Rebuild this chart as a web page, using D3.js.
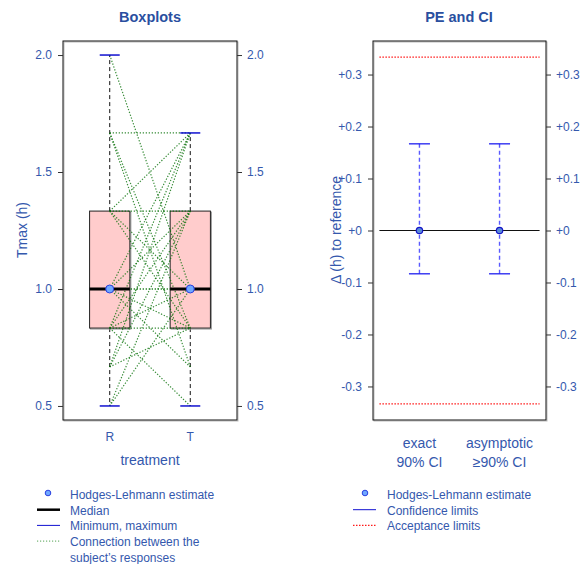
<!DOCTYPE html>
<html><head><meta charset="utf-8">
<script src="https://cdn.jsdelivr.net/npm/d3@7"></script>
<style>body{margin:0;background:#fff}text{font-family:"Liberation Sans",Arial,sans-serif}</style>
</head><body><svg id="c" width="585" height="564"></svg>
<script>
// ---- data ----
const treatments = ["R", "T"];
const tmaxR = [2.0, 1.667, 1.667, 1.667, 1.333, 1.333, 1.333, 1.0, 1.0, 1.0, 1.0, 0.833, 0.833, 0.833, 0.833, 0.667, 0.667, 0.5, 0.667, 1.333, 0.833, 1.0, 0.5, 1.0];
const tmaxT = [1.0, 1.667, 0.833, 0.667, 1.667, 1.333, 0.833, 1.667, 1.0, 0.833, 1.333, 1.667, 0.833, 1.0, 0.5, 1.667, 1.333, 1.0, 0.833, 1.0, 1.333, 0.667, 1.333, 1.0];
const hlEstimate = [1.0, 1.0];
const leftTicks = [0.5, 1.0, 1.5, 2.0];
const ciMethods = [["exact", "90% CI"], ["asymptotic", "\u226590% CI"]];
const pointEst = [0, 0];
const ciLower = [-0.0833, -0.0833];
const ciUpper = [0.1667, 0.1667];
const acceptance = [-0.3333, 0.3333];
const rightTicks = [-0.3, -0.2, -0.1, 0, 0.1, 0.2, 0.3];

const svg = d3.select("#c");
const blue = "#3458ad", titleBlue = "#2a4f9f";
const pTop = 41, pBottom = 420;
const tickFont = 12;

// ---- left panel ----
const xL = d3.scaleLinear().domain([0.42, 2.58]).range([63, 237]);
const yL = d3.scaleLinear().domain([0.44, 2.06]).range([pBottom, pTop]);
const gL = svg.append("g");
gL.append("text").attr("x", 150).attr("y", 22).attr("text-anchor", "middle").attr("font-weight", "bold").attr("font-size", 14.5).attr("fill", titleBlue).text("Boxplots");

const data = [tmaxR, tmaxT];
const stats = data.map(a => {
  const s = a.slice().sort(d3.ascending);
  return {min: s[0], q1: d3.quantile(s, 0.25), med: d3.quantile(s, 0.5), q3: d3.quantile(s, 0.75), max: s[s.length - 1]};
});
stats.forEach((s, i) => {
  const cx = xL(i + 1);
  gL.append("line").attr("x1", cx).attr("x2", cx).attr("y1", yL(s.q3)).attr("y2", yL(s.max)).attr("stroke", "#111").attr("stroke-dasharray", "4,3");
  gL.append("line").attr("x1", cx).attr("x2", cx).attr("y1", yL(s.q1)).attr("y2", yL(s.min)).attr("stroke", "#111").attr("stroke-dasharray", "4,3");
});
stats.forEach((s, i) => {
  const x0 = xL(i + 1 - 0.25), x1 = xL(i + 1 + 0.25);
  gL.append("rect").attr("x", x0 + 1).attr("y", yL(s.q3) + 1).attr("width", x1 - x0).attr("height", yL(s.q1) - yL(s.q3)).attr("fill", "none").attr("stroke", "#999");
  gL.append("rect").attr("x", x0).attr("y", yL(s.q3)).attr("width", x1 - x0).attr("height", yL(s.q1) - yL(s.q3)).attr("fill", "#ffcccc").attr("stroke", "#222");
});
tmaxR.forEach((r, k) => {
  gL.append("line").attr("x1", xL(1)).attr("x2", xL(2)).attr("y1", yL(r)).attr("y2", yL(tmaxT[k]))
    .attr("stroke", "#087008").attr("stroke-opacity", 0.8).attr("stroke-dasharray", "1.3,1.7").attr("stroke-width", 1.2);
});
stats.forEach((s, i) => {
  const x0 = xL(i + 1 - 0.25), x1 = xL(i + 1 + 0.25), cx = xL(i + 1);
  gL.append("line").attr("x1", x0).attr("x2", x1).attr("y1", yL(s.med)).attr("y2", yL(s.med)).attr("stroke", "#000").attr("stroke-width", 3);
  [s.min, s.max].forEach(v => gL.append("line").attr("x1", cx - 10).attr("x2", cx + 10).attr("y1", yL(v)).attr("y2", yL(v)).attr("stroke", "#1010d0").attr("stroke-width", 1.5));
  gL.append("circle").attr("cx", cx).attr("cy", yL(hlEstimate[i])).attr("r", 4).attr("fill", "#6fa8ff").attr("stroke", "#2a40e0").attr("stroke-width", 1);
});
gL.append("rect").attr("x", 64).attr("y", pTop + 1).attr("width", 174).attr("height", pBottom - pTop).attr("fill", "none").attr("stroke", "#bbb");
gL.append("rect").attr("x", 63).attr("y", pTop).attr("width", 174).attr("height", pBottom - pTop).attr("fill", "none").attr("stroke", "#111");
const fmt1 = d3.format(".1f");
const axL = gL.append("g").attr("transform", "translate(63,0)").call(d3.axisLeft(yL).tickValues(leftTicks).tickFormat(fmt1).tickSize(5).tickPadding(6));
const axR = gL.append("g").attr("transform", "translate(237,0)").call(d3.axisRight(yL).tickValues(leftTicks).tickFormat(fmt1).tickSize(5).tickPadding(5));
[axL, axR].forEach(a => { a.select(".domain").remove(); a.selectAll("line").attr("stroke", "#333"); a.selectAll("text").attr("fill", blue).attr("font-size", tickFont).attr("font-family", "Liberation Sans, Arial, sans-serif"); });
treatments.forEach((t, i) => gL.append("text").attr("x", xL(i + 1)).attr("y", 441).attr("text-anchor", "middle").attr("font-size", tickFont).attr("fill", blue).text(t));
gL.append("text").attr("x", 150).attr("y", 465).attr("text-anchor", "middle").attr("font-size", 14).attr("fill", blue).text("treatment");
gL.append("text").attr("transform", "translate(27,230) rotate(-90)").attr("text-anchor", "middle").attr("font-size", 14).attr("fill", blue).text("Tmax (h)");

// ---- right panel ----
const xR = d3.scaleLinear().domain([0.42, 2.58]).range([373, 546]);
const yR = d3.scaleLinear().domain([-0.3645, 0.3645]).range([pBottom, pTop]);
const gR = svg.append("g");
gR.append("text").attr("x", 459).attr("y", 22).attr("text-anchor", "middle").attr("font-weight", "bold").attr("font-size", 14.5).attr("fill", titleBlue).text("PE and CI");
acceptance.forEach(v => gR.append("line").attr("x1", xR(0.5)).attr("x2", xR(2.5)).attr("y1", yR(v)).attr("y2", yR(v)).attr("stroke", "#ff1a1a").attr("stroke-dasharray", "1.5,1.5").attr("stroke-width", 1.3));
gR.append("line").attr("x1", xR(0.5)).attr("x2", xR(2.5)).attr("y1", yR(0)).attr("y2", yR(0)).attr("stroke", "#111");
pointEst.forEach((p, i) => {
  const cx = xR(i + 1);
  gR.append("line").attr("x1", cx).attr("x2", cx).attr("y1", yR(ciUpper[i])).attr("y2", yR(ciLower[i])).attr("stroke", "#5a5aff").attr("stroke-width", 1.4).attr("stroke-dasharray", "4,3");
  [ciLower[i], ciUpper[i]].forEach(v => gR.append("line").attr("x1", cx - 10.5).attr("x2", cx + 10.5).attr("y1", yR(v)).attr("y2", yR(v)).attr("stroke", "#2020f0").attr("stroke-width", 1.3));
  gR.append("circle").attr("cx", cx).attr("cy", yR(p)).attr("r", 3.2).attr("fill", "#5a8ad8").attr("stroke", "#1515c8").attr("stroke-width", 1.2);
});
gR.append("rect").attr("x", 374).attr("y", pTop + 1).attr("width", 173).attr("height", pBottom - pTop).attr("fill", "none").attr("stroke", "#bbb");
gR.append("rect").attr("x", 373).attr("y", pTop).attr("width", 173).attr("height", pBottom - pTop).attr("fill", "none").attr("stroke", "#111");
const fmtR = v => (v >= 0 ? "+" : "-") + (Math.abs(v) < 1e-9 ? "0" : d3.format(".1f")(Math.abs(v)));
const ax2L = gR.append("g").attr("transform", "translate(373,0)").call(d3.axisLeft(yR).tickValues(rightTicks).tickFormat(fmtR).tickSize(5).tickPadding(6));
const ax2R = gR.append("g").attr("transform", "translate(546,0)").call(d3.axisRight(yR).tickValues(rightTicks).tickFormat(fmtR).tickSize(5).tickPadding(5));
[ax2L, ax2R].forEach(a => { a.select(".domain").remove(); a.selectAll("line").attr("stroke", "#333"); a.selectAll("text").attr("fill", blue).attr("font-size", tickFont).attr("font-family", "Liberation Sans, Arial, sans-serif"); });
ciMethods.forEach((m, i) => {
  m.forEach((s, j) => gR.append("text").attr("x", xR(i + 1)).attr("y", 448 + j * 19).attr("text-anchor", "middle").attr("font-size", 14).attr("fill", blue).text(s));
});
gR.append("text").attr("transform", "translate(341,230) rotate(-90)").attr("text-anchor", "middle").attr("font-size", 14).attr("fill", blue).text("\u0394 (h) to reference");

// ---- legends ----
const lg = svg.append("g");
const legL = [["pt", "Hodges-Lehmann estimate"], ["med", "Median"], ["mm", "Minimum, maximum"], ["con", "Connection between the"], ["", "subject\u2019s responses"]];
legL.forEach((d, i) => {
  const y = 495 + i * 15.7;
  lg.append("text").attr("x", 70).attr("y", y + 4).attr("font-size", 12).attr("fill", blue).text(d[1]);
  if (d[0] === "pt") lg.append("circle").attr("cx", 48).attr("cy", y - 2).attr("r", 2.8).attr("fill", "#6fa8ff").attr("stroke", "#2a40e0");
  if (d[0] === "med") lg.append("line").attr("x1", 37).attr("x2", 60).attr("y1", y - 1).attr("y2", y - 1).attr("stroke", "#000").attr("stroke-width", 2.5);
  if (d[0] === "mm") lg.append("line").attr("x1", 37).attr("x2", 60).attr("y1", y - 1).attr("y2", y - 1).attr("stroke", "#1010d0");
  if (d[0] === "con") lg.append("line").attr("x1", 37).attr("x2", 60).attr("y1", y - 1).attr("y2", y - 1).attr("stroke", "#0a7a0a").attr("stroke-opacity", 0.7).attr("stroke-dasharray", "1.2,1.8");
});
const legR = [["pt", "Hodges-Lehmann estimate"], ["ci", "Confidence limits"], ["acc", "Acceptance limits"]];
legR.forEach((d, i) => {
  const y = 495 + i * 15.7;
  lg.append("text").attr("x", 387).attr("y", y + 4).attr("font-size", 12).attr("fill", blue).text(d[1]);
  if (d[0] === "pt") lg.append("circle").attr("cx", 365).attr("cy", y - 2).attr("r", 2.8).attr("fill", "#6fa8ff").attr("stroke", "#2a40e0");
  if (d[0] === "ci") lg.append("line").attr("x1", 353).attr("x2", 376).attr("y1", y - 1).attr("y2", y - 1).attr("stroke", "#1010d0");
  if (d[0] === "acc") lg.append("line").attr("x1", 353).attr("x2", 376).attr("y1", y - 1).attr("y2", y - 1).attr("stroke", "#ff1a1a").attr("stroke-width", 1.3).attr("stroke-dasharray", "1.5,1.5");
});
</script></body></html>
